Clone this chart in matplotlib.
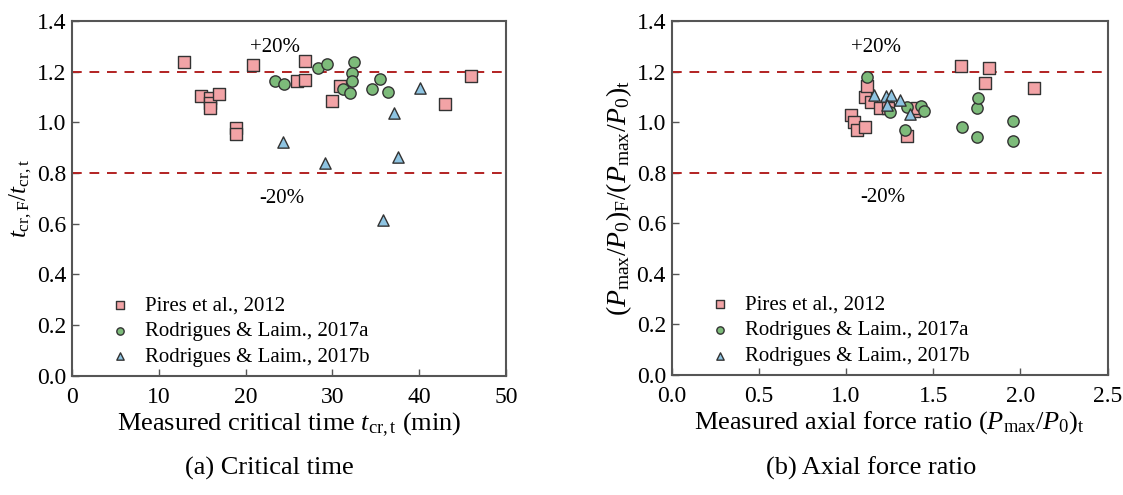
import matplotlib.pyplot as plt

plt.rcParams['font.family'] = 'Liberation Serif'
plt.rcParams['mathtext.fontset'] = 'custom'
plt.rcParams['mathtext.rm'] = 'Liberation Serif'
plt.rcParams['mathtext.it'] = 'Liberation Serif:italic'

# ---------- (a) critical time ----------
pires_t_x = [12.9, 14.9, 15.9, 15.9, 15.9, 16.9, 18.95, 18.95, 20.9, 25.9, 26.9, 26.9, 29.9, 30.9, 43.0, 46.0]
pires_t_y = [1.238, 1.105, 1.098, 1.076, 1.055, 1.111, 0.977, 0.955, 1.227, 1.164, 1.168, 1.244, 1.086, 1.144, 1.072, 1.184]
rodA_t_x = [23.4, 24.4, 28.3, 29.4, 32.5, 32.2, 32.3, 31.2, 32.0, 34.6, 35.5, 36.4]
rodA_t_y = [1.165, 1.151, 1.214, 1.230, 1.239, 1.194, 1.163, 1.132, 1.117, 1.131, 1.173, 1.118]
rodB_t_x = [24.3, 29.1, 37.1, 37.6, 40.1, 35.8]
rodB_t_y = [0.924, 0.841, 1.036, 0.865, 1.135, 0.614]

# ---------- (b) axial force ratio ----------
pires_p_x = [1.030, 1.049, 1.061, 1.110, 1.110, 1.120, 1.141, 1.196, 1.244, 1.349, 1.393, 1.405, 1.657, 1.798, 1.818, 2.079]
pires_p_y = [1.028, 0.999, 0.970, 0.980, 1.099, 1.143, 1.079, 1.058, 1.058, 0.947, 1.045, 1.058, 1.224, 1.156, 1.214, 1.135]
rodA_p_x = [1.120, 1.250, 1.340, 1.349, 1.431, 1.449, 1.668, 1.749, 1.758, 1.749, 1.959, 1.959]
rodA_p_y = [1.180, 1.040, 0.970, 1.060, 1.064, 1.043, 0.982, 1.057, 1.097, 0.942, 1.005, 0.927]
rodB_p_x = [1.162, 1.229, 1.261, 1.233, 1.309, 1.370]
rodB_p_y = [1.107, 1.102, 1.107, 1.067, 1.089, 1.033]

labels = ['Pires et al., 2012', 'Rodrigues & Laim., 2017a', 'Rodrigues & Laim., 2017b']
colors = ['#F2A3A6', '#7DBB7A', '#8EC4E2']
markers = ['s', 'o', '^']
yticks = [0, 0.2, 0.4, 0.6, 0.8, 1.0, 1.2, 1.4]

fig = plt.figure(figsize=(11.23, 4.95), dpi=100)
ax1 = fig.add_axes([0.0641, 0.2414, 0.3865, 0.716])
ax2 = fig.add_axes([0.598, 0.2430, 0.3882, 0.7143])


def draw(ax, series, xmax, xticks, xtick_fmt, txt_x):
    for (xs, ys), c, m, lab in zip(series, colors, markers, labels):
        ax.scatter(xs, ys, s=66, marker=m, facecolor=c, edgecolor='#333333',
                   linewidth=1.0, label=lab, zorder=3)
    ax.axhline(1.2, color='#B22222', linestyle=(0, (5, 4)), linewidth=1.4, zorder=2)
    ax.axhline(0.8, color='#B22222', linestyle=(0, (5, 4)), linewidth=1.4, zorder=2)
    ax.text(txt_x[0], 1.295, '+20%', fontsize=15, ha='center', va='center')
    ax.text(txt_x[1], 0.70, '-20%', fontsize=15, ha='center', va='center')
    ax.set_xlim(0, xmax)
    ax.set_ylim(0, 1.4)
    ax.set_xticks(xticks)
    ax.set_xticklabels([xtick_fmt.format(v) for v in xticks])
    ax.set_yticks(yticks)
    ax.set_yticklabels(['{:.1f}'.format(v) for v in yticks])
    ax.tick_params(direction='in', length=5, width=1.0, color='#555555',
                   labelsize=17, top=False, right=False)
    ax.tick_params(axis='x', pad=8)
    ax.tick_params(axis='y', pad=4)
    for sp in ax.spines.values():
        sp.set_color('#555555')
        sp.set_linewidth(1.5)
    ax.legend(loc='lower left', fontsize=15, frameon=False, handletextpad=0.2,
              markerscale=0.65, labelspacing=0.3, borderaxespad=0.3,
              bbox_to_anchor=(0.03, -0.017))


draw(ax1, [(pires_t_x, pires_t_y), (rodA_t_x, rodA_t_y), (rodB_t_x, rodB_t_y)],
     50, [0, 10, 20, 30, 40, 50], '{:d}', (23.4, 24.2))
draw(ax2, [(pires_p_x, pires_p_y), (rodA_p_x, rodA_p_y), (rodB_p_x, rodB_p_y)],
     2.5, [0.0, 0.5, 1.0, 1.5, 2.0, 2.5], '{:.1f}', (1.175, 1.213))

ax1.set_xlabel(r'Measured critical time $t_{\mathrm{cr,t}}$ (min)', fontsize=19, labelpad=2)
ax1.set_ylabel(r'$t_{\mathrm{cr,F}}/t_{\mathrm{cr,t}}$', fontsize=18, labelpad=2)
ax2.set_xlabel(r'Measured axial force ratio $(P_{\mathrm{max}}/P_0)_{\mathrm{t}}$', fontsize=19, labelpad=2)
ax2.set_ylabel(r'$(P_{\mathrm{max}}/P_0)_{\mathrm{F}}/(P_{\mathrm{max}}/P_0)_{\mathrm{t}}$', fontsize=20, labelpad=2)

fig.text(0.240, 0.054, '(a) Critical time', fontsize=19, ha='center', va='center')
fig.text(0.776, 0.054, '(b) Axial force ratio', fontsize=19, ha='center', va='center')

fig.savefig('out.png', dpi=100)
